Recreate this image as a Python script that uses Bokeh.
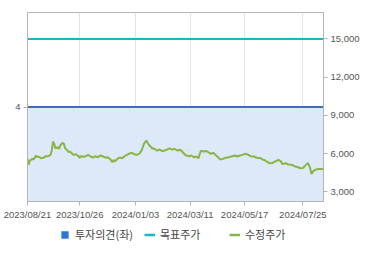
from bokeh.plotting import figure
from bokeh.layouts import column
from bokeh.models import (Range1d, LinearAxis, FixedTicker, NumeralTickFormatter,
                          Legend, LegendItem, ColumnDataSource)
from bokeh.embed import file_html
from bokeh.resources import INLINE

# ---------------- data ----------------
# x = trading-day index (0 = 2023/08/21)
tick_idx = [0, 43, 89, 134, 179, 227]
tick_labels = ["2023/08/21", "2023/10/26", "2024/01/03", "2024/03/11", "2024/05/17", "2024/07/25"]
last_idx = 244
price_ticks = [3000, 6000, 9000, 12000, 15000]
opinion_ticks = [4]

opinion_value = 4          # 투자의견 (left axis)
target_price = 15000       # 목표주가

trade_idx = [0, 1, 2, 4, 5, 7, 8, 9, 11, 13, 15, 17, 19, 20, 21, 22, 23, 25, 26, 27,
             29, 30, 31, 33, 34, 35, 37, 38, 40, 42, 43, 44, 46, 48, 50, 52, 54, 56, 58, 60,
             62, 64, 66, 68, 70, 71, 72, 74, 76, 78, 80, 82, 84, 86, 88, 90, 92,
             94, 95, 96, 98, 99, 100, 102, 103, 104, 106, 107, 109, 111, 113, 115, 117,
             119, 121, 124, 126, 128, 130, 131, 133, 135, 137, 139, 141, 142, 143, 145, 147,
             149, 151, 153, 155, 157, 159, 161, 163, 166, 169, 171, 173, 175, 177, 180, 182,
             184, 187, 189, 192, 194, 196, 198, 200, 202, 204, 207, 209, 210, 213, 215, 218,
             220, 223, 225, 227, 229, 231, 232, 233, 234, 236, 238, 240, 242, 244]
adj_price = [5590, 5120, 5460, 5590, 5540, 5850, 5715, 5770, 5640, 5670, 5800, 5800, 5900, 6240,
             6950, 6770, 6420, 6500, 6375, 6635, 6850, 6770, 6420, 6240, 6110, 6160, 5985, 5900,
             5950, 5800, 5670, 5800, 5750, 5800, 5900, 5770, 5690, 5800, 5715, 5850, 5800, 5690,
             5715, 5590, 5320, 5510, 5380, 5590, 5690, 5640, 5800, 5900, 6010, 6060, 5950, 5900,
             5985, 6240, 6500, 6770, 7030, 6850, 6700, 6500, 6375, 6420, 6300, 6240, 6320, 6190,
             6240, 6320, 6420, 6320, 6375, 6240, 6300, 6110, 5900, 5850, 5800, 5850, 5715, 5770,
             5640, 5985, 6240, 6160, 6210, 6110, 5985, 6060, 5900, 5715, 5530, 5590, 5670, 5715,
             5800, 5850, 5770, 5850, 5900, 5985, 5900, 5800, 5770, 5670, 5640, 5530, 5460, 5320,
             5245, 5270, 5380, 5510, 5380, 5180, 5245, 5140, 5120, 5010, 4930, 4850, 4870, 5060,
             5245, 5120, 4850, 4410, 4670, 4750, 4800, 4800, 4780]

# ---------------- main chart ----------------
GRAY = "#b4b4b4"
LABEL = "#555555"
C_OPINION_LINE = "#3c70b4"
C_OPINION_FILL = "#dde8f8"
C_OPINION_KEY = "#2b78d4"
C_TARGET = "#1ab5c6"
C_PRICE = "#8ab545"

p = figure(width=370, height=222, x_range=Range1d(0, last_idx), y_range=Range1d(0, 8),
           output_backend="svg", toolbar_location=None,
           min_border_left=27, min_border_right=47, min_border_top=12, min_border_bottom=21)
p.extra_y_ranges = {"price": Range1d(2240, 17080)}
p.background_fill_color = "white"
p.border_fill_color = "white"
p.outline_line_color = GRAY

x_ends = [0, last_idx]
p.varea(x=x_ends, y1=[0, 0], y2=[opinion_value, opinion_value], fill_color=C_OPINION_FILL)
p.line(x=x_ends, y=[opinion_value, opinion_value], line_color=C_OPINION_LINE, line_width=2.2)
p.line(x=x_ends, y=[target_price, target_price], y_range_name="price",
       line_color=C_TARGET, line_width=2.2)
src = ColumnDataSource(dict(x=trade_idx, y=adj_price))
p.line("x", "y", source=src, y_range_name="price", line_color=C_PRICE, line_width=2)

xa = p.xaxis[0]
xa.ticker = FixedTicker(ticks=tick_idx)
xa.major_label_overrides = {i: s for i, s in zip(tick_idx, tick_labels)}
ya = p.yaxis[0]
ya.ticker = FixedTicker(ticks=opinion_ticks)
ra = LinearAxis(y_range_name="price", ticker=FixedTicker(ticks=price_ticks),
                formatter=NumeralTickFormatter(format="0,0"))
p.add_layout(ra, "right")

for ax in [xa, ya, ra]:
    ax.axis_line_color = GRAY
    ax.major_tick_line_color = GRAY
    ax.minor_tick_line_color = None
    ax.major_tick_out = 4
    ax.major_tick_in = 0
    ax.major_label_text_color = LABEL
    ax.major_label_text_font = "Liberation Sans"
    ax.major_label_text_font_size = "9.5px"
    ax.major_label_standoff = 3

p.xgrid.ticker = FixedTicker(ticks=tick_idx)
p.xgrid.grid_line_color = "#dfe3ea"
p.ygrid.grid_line_color = None

# ---------------- legend strip ----------------
lg = figure(width=370, height=26, x_range=Range1d(0, 1), y_range=Range1d(0, 1),
            output_backend="svg", toolbar_location=None,
            x_axis_location=None, y_axis_location=None,
            min_border_left=0, min_border_right=0, min_border_top=0, min_border_bottom=0)
lg.outline_line_color = None
lg.grid.visible = False
lg.border_fill_color = "white"
lg.background_fill_color = "white"
# legend-key proxies placed outside the visible range
r1 = lg.quad(left=[5], right=[6], bottom=[5], top=[6], fill_color=C_OPINION_KEY,
             line_color="white", line_width=1.5)
r2 = lg.line(x=[5, 6], y=[5, 5], line_color=C_TARGET, line_width=2.5)
r3 = lg.line(x=[5, 6], y=[5, 5], line_color=C_PRICE, line_width=2.5)
legend = Legend(items=[LegendItem(label="투자의견(좌)", renderers=[r1]),
                       LegendItem(label="목표주가", renderers=[r2]),
                       LegendItem(label="수정주가", renderers=[r3])],
                orientation="horizontal", location=(32, 6),
                border_line_color=None, background_fill_alpha=0,
                label_text_font="Noto Sans CJK KR", label_text_font_size="11px",
                label_text_color="#444444", glyph_width=11, glyph_height=11,
                label_width=63, label_height=14, label_standoff=5, spacing=6,
                padding=0, margin=0)
lg.add_layout(legend, "center")

open("out.html", "w").write(file_html(column(p, lg, spacing=0), INLINE))
